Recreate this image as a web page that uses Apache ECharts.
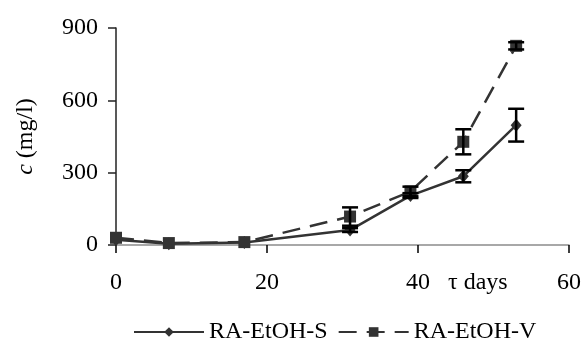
<!DOCTYPE html>
<html>
<head>
<meta charset="utf-8">
<script src="https://cdn.jsdelivr.net/npm/echarts@6/dist/echarts.min.js"></script>
<style>html,body{margin:0;padding:0;background:#fff;}#c{width:584px;height:346px;}</style>
</head>
<body>
<div id="c"></div>
<script>
var days = [0, 7, 17, 31, 39, 46, 53];
var seriesS = [22, 5, 10, 62, 205, 285, 497];
var errS = [0, 0, 0, 8, 10, 25, 68];
var seriesV = [30, 8, 12, 118, 222, 428, 826];
var errV = [0, 0, 0, 38, 20, 52, 15];
var yTicks = [0, 300, 600, 900];
var xTicks = [0, 20, 40, 60];
var nameS = 'RA-EtOH-S';
var nameV = 'RA-EtOH-V';

var FONT = 'Liberation Serif';
var chart = echarts.init(document.getElementById('c'));

function pairs(xs, ys) { return xs.map(function (x, i) { return [x, ys[i]]; }); }
function errData(xs, ys, es) {
  var out = [];
  xs.forEach(function (x, i) { if (es[i] > 0) out.push([x, ys[i] - es[i], ys[i] + es[i]]); });
  return out;
}
function errRender(params, api) {
  var x = api.value(0);
  var lo = api.coord([x, api.value(1)]);
  var hi = api.coord([x, api.value(2)]);
  var hw = 8;
  var st = { stroke: '#000', lineWidth: 2.5 };
  return {
    type: 'group',
    children: [
      { type: 'line', shape: { x1: lo[0], y1: lo[1], x2: hi[0], y2: hi[1] }, style: st },
      { type: 'line', shape: { x1: lo[0] - hw, y1: lo[1], x2: lo[0] + hw, y2: lo[1] }, style: st },
      { type: 'line', shape: { x1: hi[0] - hw, y1: hi[1], x2: hi[0] + hw, y2: hi[1] }, style: st }
    ]
  };
}

chart.setOption({
  animation: false,
  grid: { left: 116, right: 13, top: 28, bottom: 101 },
  xAxis: {
    type: 'value', min: xTicks[0], max: xTicks[xTicks.length - 1], interval: 20,
    axisLine: { lineStyle: { color: '#8c8c8c', width: 1.5 } },
    axisTick: { show: true, length: 8, lineStyle: { color: '#000', width: 1.5 } },
    axisLabel: { color: '#000', fontFamily: FONT, fontSize: 24, margin: 26 },
    splitLine: { show: false }
  },
  yAxis: {
    type: 'value', min: yTicks[0], max: yTicks[yTicks.length - 1], interval: 300,
    axisLine: { show: true, lineStyle: { color: '#222', width: 1.5 } },
    axisTick: { show: true, length: 8, lineStyle: { color: '#222', width: 1.5 } },
    axisLabel: { color: '#000', fontFamily: FONT, fontSize: 24, margin: 18 },
    splitLine: { show: false },
    name: '{i|c} (mg/l)',
    nameLocation: 'middle', nameRotate: 90, nameGap: 78,
    nameTextStyle: {
      color: '#000', fontFamily: FONT, fontSize: 24,
      rich: { i: { fontStyle: 'italic', fontFamily: FONT, fontSize: 24, color: '#000' } }
    }
  },
  legend: {
    left: 128, top: 315,
    itemWidth: 70, itemHeight: 12, itemGap: 10,
    textStyle: { color: '#000', fontFamily: FONT, fontSize: 24 },
    data: [nameS, nameV]
  },
  graphic: [{
    type: 'text', left: 448, top: 271,
    style: { text: 'τ days', fontFamily: FONT, fontSize: 24, fill: '#000' }
  }],
  series: [
    {
      name: nameS, type: 'line', data: pairs(days, seriesS),
      symbol: 'diamond', symbolSize: [11, 13],
      lineStyle: { color: '#333', width: 2.5 },
      itemStyle: { color: '#333' }, z: 3
    },
    {
      name: nameV, type: 'line', data: pairs(days, seriesV),
      symbol: 'rect', symbolSize: 12,
      lineStyle: { color: '#333', width: 2.5, type: [18, 10] },
      itemStyle: { color: '#333' }, z: 3
    },
    { type: 'custom', renderItem: errRender, data: errData(days, seriesS, errS), z: 4, silent: true },
    { type: 'custom', renderItem: errRender, data: errData(days, seriesV, errV), z: 4, silent: true }
  ]
});
</script>
</body>
</html>
